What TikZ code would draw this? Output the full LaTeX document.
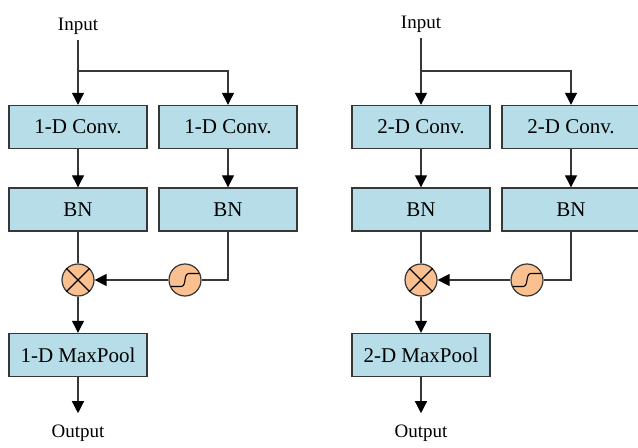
\documentclass[tikz,border=0pt]{standalone}
\usepackage{fontspec}
\setmainfont{Liberation Serif}
\usetikzlibrary{arrows.meta}
\definecolor{boxblue}{RGB}{183,222,232}
\definecolor{peach}{RGB}{250,192,144}
\definecolor{linegray}{RGB}{55,55,55}
\begin{document}
\begin{tikzpicture}[x=1bp,y=-1bp,
 blk/.style={draw=linegray, line width=1.4bp, fill=boxblue, minimum width=138bp, minimum height=43bp, inner sep=0, font=\fontsize{21bp}{24bp}\selectfont},
 lbl/.style={inner sep=0, font=\fontsize{19bp}{22bp}\selectfont, anchor=base},
 op/.style={circle, draw=linegray, line width=1.2bp, fill=peach, minimum size=32bp, inner sep=0},
 conn/.style={draw=linegray, line width=1.3bp},
 arr/.style={conn, -{Triangle[width=12bp,length=12bp,color=black]}},
 sigline/.style={draw=black, line width=1.1bp},
]
\useasboundingbox (0,0) rectangle (638,448);

% ---------- left panel ----------
\node[lbl] (in1) at (78,31) {Input};
\node[blk] (c1a) at (78,127) {1-D Conv.};
\node[blk] (c1b) at (228,127) {1-D Conv.};
\node[blk] (bn1a) at (78,209.5) {BN};
\node[blk] (bn1b) at (228,209.5) {BN};
\node[op] (mul1) at (78,280) {};
\node[op] (sig1) at (185,280) {};
\node[blk] (mp1) at (78,355) {1-D MaxPool};
\node[lbl] (out1) at (78,437) {Output};
\coordinate (br1) at (78,71);

\draw[sigline] (mul1.north west) -- (mul1.south east);
\draw[sigline] (mul1.north east) -- (mul1.south west);
\begin{scope}[shift={(sig1.center)}]
\draw[sigline] (-14,6.5) -- (-4,6.5) .. controls (2,6.5) and (-2,-6.5) .. (4,-6.5) -- (14,-6.5);
\end{scope}

\draw[arr, shorten <=5bp] (in1) -- (c1a);
\draw[arr] (br1) -| (c1b);
\draw[arr] (c1a) -- (bn1a);
\draw[arr] (c1b) -- (bn1b);
\draw[conn] (bn1a) -- (mul1);
\draw[conn] (bn1b.south) |- (sig1);
\draw[arr] (sig1) -- (mul1);
\draw[arr] (mul1) -- (mp1);
\draw[arr, shorten >=11bp] (mp1) -- (out1);

% ---------- right panel ----------
\node[lbl] (in2) at (421,29) {Input};
\node[blk] (c2a) at (421,127) {2-D Conv.};
\node[blk] (c2b) at (571,127) {2-D Conv.};
\node[blk] (bn2a) at (421,209.5) {BN};
\node[blk] (bn2b) at (571,209.5) {BN};
\node[op] (mul2) at (421,280) {};
\node[op] (sig2) at (527,280) {};
\node[blk] (mp2) at (421,355) {2-D MaxPool};
\node[lbl] (out2) at (421,437) {Output};
\coordinate (br2) at (421,71);

\draw[sigline] (mul2.north west) -- (mul2.south east);
\draw[sigline] (mul2.north east) -- (mul2.south west);
\begin{scope}[shift={(sig2.center)}]
\draw[sigline] (-14,6.5) -- (-4,6.5) .. controls (2,6.5) and (-2,-6.5) .. (4,-6.5) -- (14,-6.5);
\end{scope}

\draw[arr, shorten <=5bp] (in2) -- (c2a);
\draw[arr] (br2) -| (c2b);
\draw[arr] (c2a) -- (bn2a);
\draw[arr] (c2b) -- (bn2b);
\draw[conn] (bn2a) -- (mul2);
\draw[conn] (bn2b.south) |- (sig2);
\draw[arr] (sig2) -- (mul2);
\draw[arr] (mul2) -- (mp2);
\draw[arr, shorten >=11bp] (mp2) -- (out2);
\end{tikzpicture}
\end{document}
